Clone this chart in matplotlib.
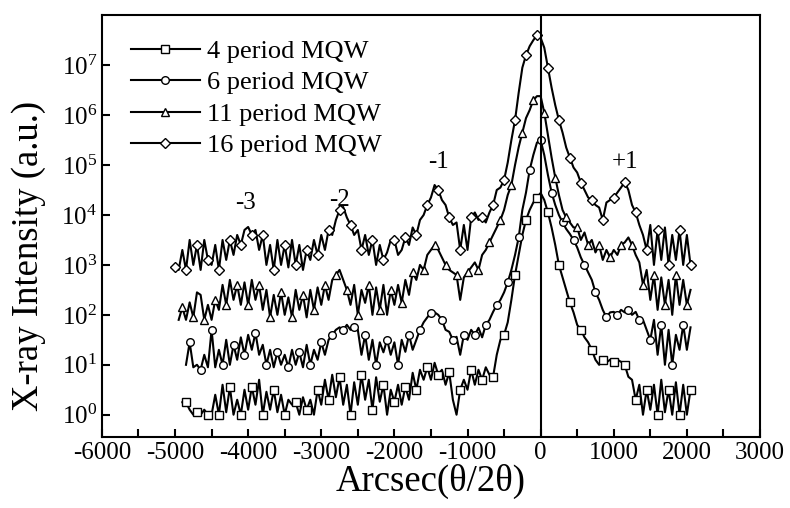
import numpy as np
import matplotlib
matplotlib.use("Agg")
from matplotlib import pyplot as plt
from matplotlib.ticker import MultipleLocator, LogLocator, NullFormatter

plt.rcParams['font.family'] = ['Liberation Serif', 'DejaVu Serif']
plt.rcParams['mathtext.fontset'] = 'stix'
plt.rcParams['axes.unicode_minus'] = False

# scan positions (arcsec), one reading every 50 arcsec
arcsec = np.arange(-5000, 2051, 50)

# log10 of intensity, 10 values per 500 arcsec
log_16 = [
    2.95, 2.9, 3.3, 2.9, 3.5, 3.0, 3.4, 2.9, 3.5, 3.1,
    3.0, 3.4, 2.9, 3.5, 3.1, 3.5, 3.2, 3.6, 3.4, 3.7,
    3.76, 3.6, 3.7, 3.3, 3.6, 3.0, 3.4, 2.9, 3.5, 3.0,
    3.4, 2.95, 3.5, 3.0, 3.4, 2.9, 3.3, 3.1, 3.5, 3.2,
    3.6, 3.3, 3.7, 3.6, 3.9, 4.1, 4.16, 3.95, 3.8, 3.6,
    3.7, 3.3, 3.6, 3.2, 3.5, 3.0, 3.4, 3.1, 3.25, 3.5,
    3.5, 3.2, 3.3, 3.55, 3.4, 3.75, 3.6, 3.9, 4.0, 4.2,
    4.35, 4.6, 4.5, 4.3, 4.2, 3.95, 3.8, 3.85, 3.3, 3.8,
    3.3, 3.95, 4.05, 3.9, 3.95, 3.85, 4.05, 4.2, 4.5, 4.55,
    4.7, 5.05, 5.5, 5.9, 6.45, 6.95, 7.2, 7.38, 7.5, 7.6,
    7.55, 7.35, 6.95, 6.55, 6.2, 5.9, 5.65, 5.35, 5.15, 4.95,
    4.85, 4.65, 4.5, 4.35, 4.3, 4.2, 4.15, 3.9, 4.25, 4.3,
    4.35, 4.45, 4.55, 4.66, 4.5, 4.2, 4.05, 3.8, 3.6, 3.3,
    3.8, 3.0, 3.7, 3.1, 3.75, 3.0, 3.6, 3.1, 3.7, 3.0,
    3.6, 3.0]

log_11 = [
    np.nan, 1.9, 2.15, 1.9, 2.25, 1.95, 2.45, 2.4, 1.9, 2.2,
    1.9, 2.3, 2.1, 2.6, 2.2, 2.7, 2.3, 2.6, 2.2, 2.65,
    2.2, 2.7, 2.3, 2.6, 2.1, 2.5, 1.95, 2.4, 2.0, 2.45,
    2.0, 2.35, 1.95, 2.5, 2.1, 2.4, 1.95, 2.5, 2.1, 2.55,
    2.2, 2.6, 2.3, 2.7, 2.8, 2.9, 2.7, 2.5, 2.2, 2.6,
    2.0, 2.5, 2.24, 2.6, 2.0, 2.55, 2.1, 2.6, 2.0, 2.5,
    2.2, 2.6, 2.24, 2.7, 2.4, 2.85, 2.7, 3.0, 2.9, 3.2,
    3.3, 3.4, 3.3, 3.15, 3.0, 2.9, 2.85, 2.8, 2.3, 2.75,
    2.85, 2.95, 3.05, 2.9, 3.2, 3.3, 3.45, 3.6, 3.75, 3.9,
    4.1, 4.4, 4.6, 5.0, 5.36, 5.65, 5.94, 6.1, 6.3, 6.38,
    6.38, 6.05, 5.6, 5.15, 4.75, 4.4, 4.1, 3.95, 3.85, 3.75,
    3.75, 3.5, 3.65, 3.4, 3.5, 3.25, 3.4, 3.1, 3.3, 3.15,
    3.3, 3.2, 3.4, 3.45, 3.55, 3.4, 3.2, 3.05, 2.6, 2.9,
    2.3, 2.8, 2.1, 2.75, 2.2, 2.7, 2.0, 2.8, 2.2, 2.7,
    2.2, 2.5]

log_6 = [
    np.nan, np.nan, np.nan, 1.0, 1.45, 0.95, 1.0, 0.9, 1.2, 0.95,
    1.7, 0.95, 1.3, 1.0, 1.5, 1.0, 1.4, 1.1, 1.55, 1.2,
    1.6, 1.3, 1.64, 1.2, 1.4, 1.0, 1.3, 0.95, 1.25, 1.0,
    1.2, 0.95, 1.3, 1.0, 1.25, 0.95, 1.4, 1.0, 1.3, 1.1,
    1.45, 1.2, 1.5, 1.6, 1.7, 1.75, 1.7, 1.8, 1.7, 1.75,
    1.7, 1.2, 1.6, 1.1, 1.5, 1.0, 1.45, 1.25, 1.5, 1.2,
    1.45, 1.0, 1.5, 1.26, 1.6, 1.3, 1.5, 1.7, 1.85, 1.95,
    2.04, 2.05, 2.0, 1.9, 1.7, 1.66, 1.5, 1.56, 1.2, 1.6,
    1.5, 1.7, 1.6, 1.74, 1.55, 1.8, 1.9, 2.06, 2.2, 2.3,
    2.45, 2.65, 2.9, 3.2, 3.55, 4.1, 4.45, 4.9, 5.2, 5.45,
    5.5, 5.2, 4.8, 4.45, 4.2, 4.0, 3.85, 3.72, 3.62, 3.5,
    3.35, 3.15, 3.0, 2.85, 2.7, 2.45, 2.3, 2.1, 1.95, 2.05,
    2.06, 2.0, 2.1, 2.05, 2.1, 2.0, 2.06, 1.9, 1.9, 1.7,
    1.5, 1.9, 1.2, 1.8, 1.0, 1.7, 1.0, 1.6, 1.3, 1.8,
    1.3, 1.75]

log_4 = [
    np.nan, np.nan, 0.25, 0.25, 0.1, 0.0, 0.05, 0.0, 0.1, 0.0,
    0.0, 0.4, 0.0, 0.6, 0.05, 0.55, 0.0, 0.3, 0.0, 0.5,
    0.1, 0.56, 0.2, 0.7, 0.0, 0.46, 0.1, 0.5, 0.05, 0.4,
    0.0, 0.3, 0.2, 0.25, 0.0, 0.35, 0.1, 0.3, 0.0, 0.5,
    0.2, 0.7, 0.3, 0.8, 0.35, 0.75, 0.2, 0.6, 0.0, 0.65,
    0.2, 0.8, 0.3, 0.7, 0.1, 0.75, 0.26, 0.6, 0.0, 0.5,
    0.26, 0.6, 0.2, 0.56, 0.3, 0.84, 0.5, 0.9, 0.7, 0.95,
    0.7, 1.04, 0.8, 0.9, 0.6, 0.85, 0.3, 0.0, 0.5, 0.7,
    0.5, 0.9, 0.6, 0.9, 0.7, 0.95, 0.8, 0.76, 1.2, 1.5,
    1.6, 1.85, 2.3, 2.8, 3.2, 3.6, 3.9, 4.1, 4.25, 4.35,
    4.44, 4.3, 4.05, 3.75, 3.4, 3.0, 2.75, 2.5, 2.25, 2.05,
    1.8, 1.7, 1.55, 1.45, 1.3, 1.1, 1.0, 1.1, 1.05, 1.1,
    1.05, 1.1, 1.06, 1.0, 0.76, 0.7, 0.3, 0.6, 0.0, 0.5,
    0.1, 0.6, 0.0, 0.7, 0.05, 0.5, 0.0, 0.65, 0.0, 0.6,
    0.0, 0.5]

labels = ["4 period MQW", "6 period MQW", "11 period MQW", "16 period MQW"]
markers = ['s', 'o', '^', 'D']

# satellite peak labels
sat_text = ["-3", "-2", "-1", "+1"]
sat_x = [-4040, -2750, -1400, 1160]
sat_y = [1.7e4, 2.0e4, 1.15e5, 1.15e5]

fig = plt.figure(figsize=(7.9, 5.08), dpi=100)
ax = fig.add_axes([0.129, 0.140, 0.833, 0.830])

series = [log_4, log_6, log_11, log_16]
for i in range(4):
    ax.plot(arcsec, 10 ** np.array(series[i]), color='black', lw=1.5,
            marker=markers[i], ms=5.5 if markers[i] != 'D' else 5,
            mfc='white', mec='black', mew=1.0,
            markevery=(i % 3, 3), label=labels[i])

ax.axvline(0, color='black', lw=1.5)

for t, xx, yy in zip(sat_text, sat_x, sat_y):
    ax.text(xx, yy, t, ha='center', va='center', fontsize=18)

ax.set_yscale('log')
ax.set_xlim(-6000, 3000)
ax.set_ylim(0.36, 1e8)
ax.set_xticks(range(-6000, 3001, 1000))
ax.xaxis.set_minor_locator(MultipleLocator(500))
ax.set_yticks([1e0, 1e1, 1e2, 1e3, 1e4, 1e5, 1e6, 1e7])
ax.yaxis.set_minor_locator(LogLocator(base=10, subs=np.arange(2, 10)))
ax.yaxis.set_minor_formatter(NullFormatter())

ax.tick_params(which='both', direction='in', top=False, right=False, labelsize=18)
ax.tick_params(which='major', length=6, width=1.5)
ax.tick_params(axis='x', which='minor', length=6, width=1.5)
ax.tick_params(axis='y', which='minor', length=3.5, width=1.0)
for s in ax.spines.values():
    s.set_linewidth(1.5)

ax.set_xlabel("Arcsec(θ/2θ)", fontsize=26.5, labelpad=0)
ax.set_ylabel("X-ray Intensity (a.u.)", fontsize=26.5)
ax.yaxis.set_label_coords(-0.085, 0.43)

ax.legend(loc='upper left', bbox_to_anchor=(0.02, 0.98), frameon=False,
          fontsize=19, handlelength=2.6, handletextpad=0.3, labelspacing=0.3,
          numpoints=1, borderaxespad=0.2)

fig.savefig("out.png", dpi=100)
